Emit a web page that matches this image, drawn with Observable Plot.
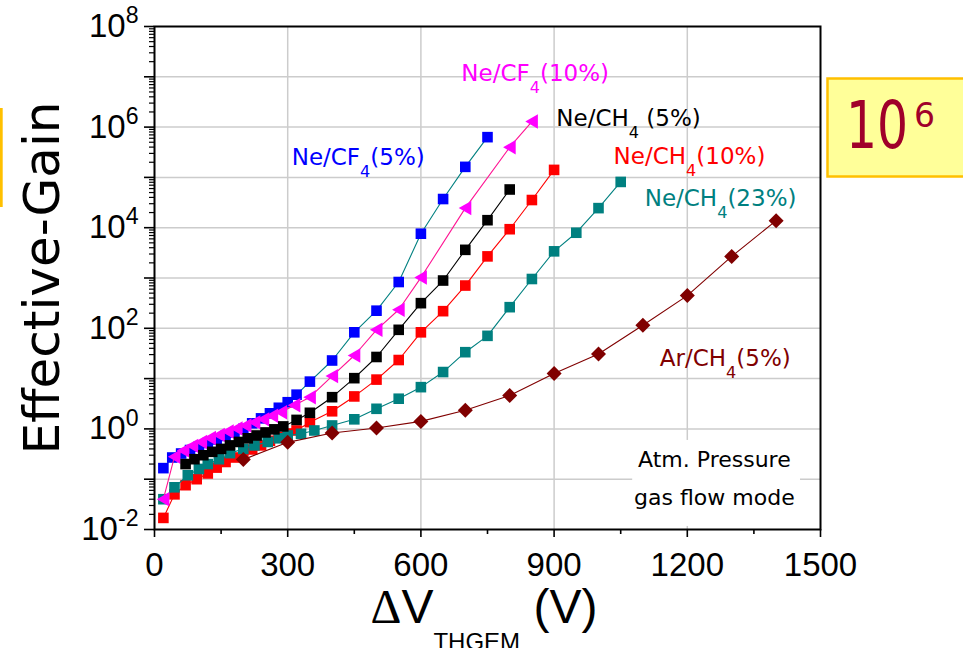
<!DOCTYPE html>
<html>
<head>
<meta charset="utf-8">
<script src="https://cdn.jsdelivr.net/npm/d3@7"></script>
<script src="https://cdn.jsdelivr.net/npm/@observablehq/plot@0.6"></script>
<style>
  html, body { margin: 0; padding: 0; background: #fff; }
  #wrap { position: relative; width: 963px; height: 648px; overflow: hidden; }
</style>
</head>
<body>
<div id="wrap"></div>
<script>
// Effective gain of a THGEM versus applied voltage, for several gas mixtures.

// Ne/CF4 (5%)
const cf4_5_V = [20, 40, 60, 80, 100, 120, 140, 160, 180, 200, 220, 240, 260, 280, 300, 320, 350, 400, 450, 500, 550, 600, 650, 700, 750];
const cf4_5_G = [0.166, 0.27, 0.324, 0.38, 0.447, 0.525, 0.617, 0.724, 0.851, 1.0, 1.29, 1.62, 2.04, 2.63, 3.39, 4.79, 8.71, 22.9, 83.2, 224, 832, 7590, 37150, 162000, 631000];

// Ne/CF4 (10%)
const cf4_10_V = [20, 45, 65, 85, 105, 125, 145, 165, 185, 205, 225, 245, 265, 285, 315, 350, 400, 450, 500, 550, 600, 700, 800, 850];
const cf4_10_G = [0.04, 0.28, 0.37, 0.46, 0.55, 0.66, 0.76, 0.89, 1.02, 1.17, 1.35, 1.55, 1.82, 2.14, 2.95, 4.27, 11.2, 28.8, 93.3, 234, 1020, 24500, 398000, 1290000];

// Ne/CH4 (5%)
const ch4_5_V = [70, 90, 110, 130, 150, 170, 190, 210, 230, 250, 270, 290, 320, 350, 400, 450, 500, 550, 600, 650, 700, 750, 800];
const ch4_5_G = [0.2, 0.25, 0.3, 0.35, 0.4, 0.47, 0.55, 0.65, 0.74, 0.85, 0.98, 1.12, 1.51, 2.09, 4.27, 10.2, 26.9, 93.3, 316, 891, 3630, 14100, 57500];

// Ne/CH4 (10%)
const ch4_10_V = [20, 45, 70, 95, 120, 140, 160, 180, 200, 220, 240, 260, 280, 300, 320, 350, 400, 450, 500, 550, 600, 650, 700, 750, 800, 850, 900];
const ch4_10_G = [0.017, 0.05, 0.076, 0.1, 0.13, 0.17, 0.22, 0.27, 0.32, 0.39, 0.47, 0.58, 0.69, 0.81, 0.93, 1.36, 2.24, 4.42, 9.55, 23.4, 83.2, 219, 708, 2690, 9330, 35500, 141000];

// Ne/CH4 (23%)
const ch4_23_V = [20, 45, 75, 100, 120, 145, 170, 200, 225, 255, 280, 300, 330, 360, 400, 450, 500, 550, 600, 650, 700, 750, 800, 850, 900, 950, 1000, 1050];
const ch4_23_G = [0.04, 0.069, 0.12, 0.16, 0.2, 0.25, 0.33, 0.4, 0.47, 0.55, 0.65, 0.74, 0.8, 0.93, 1.17, 1.55, 2.51, 3.98, 6.76, 13.5, 33.5, 70.8, 263, 955, 3390, 7940, 24500, 81300];

// Ar/CH4 (5%)
const ar_5_V = [200, 300, 400, 500, 600, 700, 800, 900, 1000, 1100, 1200, 1300, 1400];
const ar_5_G = [0.245, 0.54, 0.83, 1.04, 1.41, 2.34, 4.62, 12.6, 30.9, 115, 447, 2690, 13800];

// Axis ticks and labels
const xTicks = [0, 300, 600, 900, 1200, 1500];
const xMinorTicks = [150, 450, 750, 1050, 1350];
const yTicks = [1e-2, 1e-1, 1, 1e1, 1e2, 1e3, 1e4, 1e5, 1e6, 1e7, 1e8];
const yTickLabels = ["10^{-2}", "", "10^{0}", "", "10^{2}", "", "10^{4}", "", "10^{6}", "", "10^{8}"];
const yGrid = [1e-1, 1, 1e1, 1e2, 1e3, 1e4, 1e5, 1e6, 1e7];

// Mixture names, drawn next to their curves
const labelText = ["Ne/CF_{4}(5%)", "Ne/CF_{4}(10%)", "Ne/CH_{4} (5%)", "Ne/CH_{4}(10%)", "Ne/CH_{4}(23%)", "Ar/CH_{4}(5%)"];
const labelV = [309, 691, 905, 1034, 1104, 1138];
const labelG = [2.47e5, 1.15e7, 1.47e6, 2.64e5, 3.79e4, 24.5];

// minor log ticks (2..9 in each decade)
const yMinorTicks = [];
for (let e = -2; e < 8; e++) for (let k = 2; k <= 9; k++) yMinorTicks.push(k * Math.pow(10, e));

// marker shapes
const sqSym = {draw(ctx, size) { const k = Math.sqrt(size / Math.PI) * 1.06; ctx.moveTo(-k, -k); ctx.lineTo(k, -k); ctx.lineTo(k, k); ctx.lineTo(-k, k); ctx.closePath(); }};
const triLeft = {draw(ctx, size) { const k = Math.sqrt(size / Math.PI); ctx.moveTo(-1.1 * k, 0); ctx.lineTo(1.0 * k, -1.2 * k); ctx.lineTo(1.0 * k, 1.2 * k); ctx.closePath(); }};
const diam = {draw(ctx, size) { const k = Math.sqrt(size / Math.PI) * 1.25; ctx.moveTo(0, -k); ctx.lineTo(k, 0); ctx.lineTo(0, k); ctx.lineTo(-k, 0); ctx.closePath(); }};

const rows = (V, G) => V.map((v, i) => ({V: v, G: G[i]}));

const series = [
  {data: rows(ch4_10_V, ch4_10_G), fill: "#ff0000", line: "#ff0000", symbol: sqSym, r: 5},
  {data: rows(ch4_23_V, ch4_23_G), fill: "#008080", line: "#008080", symbol: sqSym, r: 5},
  {data: rows(cf4_5_V, cf4_5_G), fill: "#0000ff", line: "#008080", symbol: sqSym, r: 5},
  {data: rows(cf4_10_V, cf4_10_G), fill: "#ff00ff", line: "#ff1493", symbol: triLeft, r: 6},
  {data: rows(ch4_5_V, ch4_5_G), fill: "#000000", line: "#000000", symbol: sqSym, r: 5},
  {data: rows(ar_5_V, ar_5_G), fill: "#800000", line: "#800000", symbol: diam, r: 6}
];
const labelColors = ["#0000ff", "#ff00ff", "#000000", "#ff0000", "#008080", "#800000"];

const seriesMarks = series.flatMap(s => [
  Plot.line(s.data, {x: "V", y: "G", stroke: s.line, strokeWidth: 1.1}),
  Plot.dot(s.data, {x: "V", y: "G", symbol: () => s.symbol, r: s.r, fill: s.fill, stroke: "none"})
]);

const labelMarks = labelText.map((t, i) =>
  Plot.text([{V: labelV[i], G: labelG[i], t}], {x: "V", y: "G", text: "t", textAnchor: "start",
    fill: labelColors[i], fontSize: 23, fontFamily: "DejaVu Sans"}));

const chart = Plot.plot({
  width: 963,
  height: 648,
  marginLeft: 154,
  marginRight: 143,
  marginTop: 26,
  marginBottom: 119,
  style: {fontFamily: "'Liberation Sans', Arial, sans-serif", fontSize: "33px", color: "#000", background: "#fff", overflow: "visible"},
  x: {domain: [0, 1500]},
  y: {type: "log", domain: [1e-2, 1e8]},
  marks: [
    Plot.gridX(xTicks.slice(1, -1), {stroke: "#cccccc", strokeOpacity: 1, strokeWidth: 1.5}),
    Plot.gridY(yGrid, {stroke: "#cccccc", strokeOpacity: 1, strokeWidth: 1.5}),
    // white panel behind the operating-conditions note
    Plot.rect([{x1: 1077, x2: 1455, y1: 0.0115, y2: 0.59}], {x1: "x1", x2: "x2", y1: "y1", y2: "y2", fill: "#fff"}),
    Plot.axisX({ticks: xTicks, tickSize: 8, tickPadding: 15, strokeWidth: 1.6, label: null, fontSize: 33, tickFormat: d => String(d)}),
    Plot.axisX({ticks: xMinorTicks, tickSize: 5, strokeWidth: 1.6, label: null, tickFormat: () => ""}),
    Plot.axisY({ticks: yTicks, tickSize: 10, tickPadding: 6, strokeWidth: 1.6, label: null, fontSize: 33,
      tickFormat: d => yTickLabels[yTicks.findIndex(t => Math.abs(Math.log10(t) - Math.log10(d)) < 1e-6)]}),
    Plot.axisY({ticks: yMinorTicks, tickSize: 5, strokeWidth: 1.2, label: null, tickFormat: () => ""}),
    ...seriesMarks,
    Plot.frame({stroke: "#000", strokeWidth: 2}),
    ...labelMarks,
    Plot.text([{V: 1261, G: 0.237, t: "Atm. Pressure"}, {V: 1261, G: 0.0417, t: "gas flow mode"}],
      {x: "V", y: "G", text: "t", fill: "#000", fontSize: 22, fontFamily: "DejaVu Sans"}),
    Plot.text([0], {frameAnchor: "left", dx: -112, rotate: -90, textAnchor: "middle", text: () => "Effective-Gain",
      fontSize: 50, fontFamily: "DejaVu Sans", fill: "#000"}),
    Plot.text([0], {frameAnchor: "bottom-left", dx: 216, dy: 93, textAnchor: "start",
      text: () => "ΔV_{THGEM} (V)", fontSize: 48, fill: "#000"})
  ]
});

document.getElementById("wrap").appendChild(chart);

// Turn _{..} and ^{..} markup into subscript / superscript tspans.
function richText(node) {
  const s = node.textContent;
  if (!/[_^]\{/.test(s)) return;
  const fs = parseFloat(getComputedStyle(node).fontSize);
  const isAxisLabel = s.startsWith("Δ");
  const parts = s.split(/([_^]\{[^}]*\})/).filter(p => p.length);
  node.textContent = "";
  let shift = 0;
  for (const p of parts) {
    let target = 0, txt = p, size = null;
    if (p.startsWith("_{")) {
      txt = p.slice(2, -1);
      target = isAxisLabel ? 0.58 * fs : 0.52 * fs;
      size = isAxisLabel ? 0.5 * fs : 0.7 * fs;
    } else if (p.startsWith("^{")) {
      txt = p.slice(2, -1);
      target = -0.42 * fs;
      size = 0.7 * fs;
    }
    if (isAxisLabel && txt.startsWith("Δ")) {
      d3.select(node).append("tspan").attr("font-family", "'Liberation Serif', serif").text("Δ");
      txt = txt.slice(1);
    }
    const ts = d3.select(node).append("tspan");
    if (target !== shift) ts.attr("dy", target - shift);
    shift = target;
    if (size) ts.attr("font-size", size);
    ts.text(txt);
  }
}
d3.select(chart).selectAll("text").each(function() { richText(this); });

// Highlighted gain value beside the plot and the edge of the neighbouring panel
const svg = d3.select(chart);
svg.append("rect").attr("x", 827.5).attr("y", 78.5).attr("width", 140).attr("height", 98)
  .attr("fill", "#ffff99").attr("stroke", "#ffc000").attr("stroke-width", 2.5);
svg.append("text").attr("transform", "translate(846,148) scale(0.74,1)").attr("text-anchor", "start")
  .attr("fill", "#a0002a").attr("font-family", "'DejaVu Sans', sans-serif").attr("font-size", 66).text("10");
svg.append("text").attr("x", 914).attr("y", 127).attr("text-anchor", "start")
  .attr("fill", "#a0002a").attr("font-family", "'DejaVu Sans', sans-serif").attr("font-size", 33).text("6");
svg.append("rect").attr("x", 0).attr("y", 108).attr("width", 2.7).attr("height", 99).attr("fill", "#ffc000");
</script>
</body>
</html>
